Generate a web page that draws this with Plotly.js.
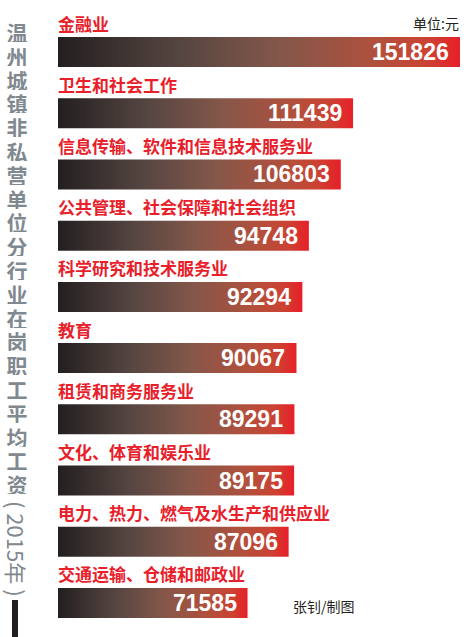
<!DOCTYPE html>
<html>
<head>
<meta charset="utf-8">
<script src="https://cdn.plot.ly/plotly-3.0.1.min.js"></script>
<style>
  html, body { margin: 0; padding: 0; background: #fff; }
  #chart { width: 466px; height: 637px; }
</style>
</head>
<body>
<div id="chart"></div>
<script>
// Données (salaire moyen annuel, yuan)
var categories = [
    '金融业',
    '卫生和社会工作',
    '信息传输、软件和信息技术服务业',
    '公共管理、社会保障和社会组织',
    '科学研究和技术服务业',
    '教育',
    '租赁和商务服务业',
    '文化、体育和娱乐业',
    '电力、热力、燃气及水生产和供应业',
    '交通运输、仓储和邮政业'
];
var values = [151826, 111439, 106803, 94748, 92294, 90067, 89291, 89175, 87096, 71585];

var titleMain = '温州城镇非私营单位分行业在岗职工平均工资';
var titleYear = '( 2015年 )';
var unitText = '单位:元';
var creditText = '张钊/制图';

// Mise en page (pixels)
var W = 466, H = 637;
var barLeft = 58, barRight = 460;
var firstCenter = 52, pitch = 61.22, barHalf = 15;

var gradient = [
    [0, '#231f20'],
    [0.3, '#554541'],
    [0.55, '#83574a'],
    [0.8, '#b2503c'],
    [0.92, '#cc4232'],
    [1, '#e81f29']
];

function px(x) { return x / W; }
function py(y) { return 1 - y / H; }

// Une forme remplie par barre, pour avoir le dégradé
var data = [];
var h = barHalf / pitch;
for (let i = 0; i < values.length; i++) {
    data.push({
        type: 'scatter',
        mode: 'lines',
        x: [0, values[i], values[i], 0, 0],
        y: [i - h, i - h, i + h, i + h, i - h],
        fill: 'toself',
        fillcolor: '#8a5546',
        fillgradient: { type: 'horizontal', colorscale: gradient },
        line: { width: 0 },
        hoverinfo: 'skip',
        showlegend: false
    });
}

var annotations = [];
for (let i = 0; i < categories.length; i++) {
    // libellé rouge au-dessus de la barre
    annotations.push({
        x: 0, y: i, xref: 'x', yref: 'y',
        text: '<b>' + categories[i] + '</b>',
        xanchor: 'left', yanchor: 'middle',
        yshift: 29, xshift: -2,
        showarrow: false,
        font: { family: 'Noto Sans CJK SC', size: 17, color: '#e8202a' }
    });
    // valeur blanche dans la barre
    annotations.push({
        x: values[i], y: i, xref: 'x', yref: 'y',
        text: '<b>' + values[i] + '</b>',
        xanchor: 'right', yanchor: 'middle',
        xshift: -9,
        showarrow: false,
        font: { family: 'Liberation Sans, Arial, sans-serif', size: 23, color: '#ffffff' }
    });
}

// Titre vertical, un caractère par ligne (boîte fixée pour ne pas se chevaucher)
var chars = Array.from(titleMain);
for (let k = 0; k < chars.length; k++) {
    annotations.push({
        x: px(17), y: py(32 + k * 23.8), xref: 'paper', yref: 'paper',
        text: '<b>' + chars[k] + '</b>',
        xanchor: 'center', yanchor: 'middle',
        height: 20, width: 24, borderpad: 0, valign: 'middle',
        showarrow: false,
        font: { family: 'Noto Sans CJK SC', size: 21, color: '#80898f' }
    });
}
annotations.push({
    x: px(17), y: py(549), xref: 'paper', yref: 'paper',
    text: titleYear,
    textangle: 90,
    xanchor: 'center', yanchor: 'middle',
    showarrow: false,
    font: { family: 'Noto Sans CJK SC', size: 22, color: '#80898f' }
});

annotations.push({
    x: px(461), y: py(23), xref: 'paper', yref: 'paper',
    text: unitText, xanchor: 'right', yanchor: 'middle', showarrow: false,
    font: { family: 'Noto Sans CJK SC', size: 14, color: '#231f20' }
});
annotations.push({
    x: px(291), y: py(606), xref: 'paper', yref: 'paper',
    text: creditText, xanchor: 'left', yanchor: 'middle', showarrow: false,
    font: { family: 'Noto Sans CJK SC', size: 14, color: '#231f20' }
});

var xMax = values[0] * (W - barLeft) / (barRight - barLeft);

var layout = {
    width: W,
    height: H,
    margin: { l: 0, r: 0, t: 0, b: 0 },
    paper_bgcolor: '#ffffff',
    plot_bgcolor: '#ffffff',
    showlegend: false,
    xaxis: {
        domain: [barLeft / W, 1],
        range: [0, xMax],
        visible: false,
        fixedrange: true
    },
    yaxis: {
        domain: [0, 1],
        range: [(H - firstCenter) / pitch, -firstCenter / pitch],
        visible: false,
        fixedrange: true
    },
    shapes: [{
        type: 'rect', xref: 'paper', yref: 'paper',
        x0: px(12), x1: px(18), y0: py(637), y1: py(600),
        fillcolor: '#231f20', line: { width: 0 }
    }],
    annotations: annotations
};

Plotly.newPlot('chart', data, layout, { displayModeBar: false, staticPlot: true });
</script>
</body>
</html>
